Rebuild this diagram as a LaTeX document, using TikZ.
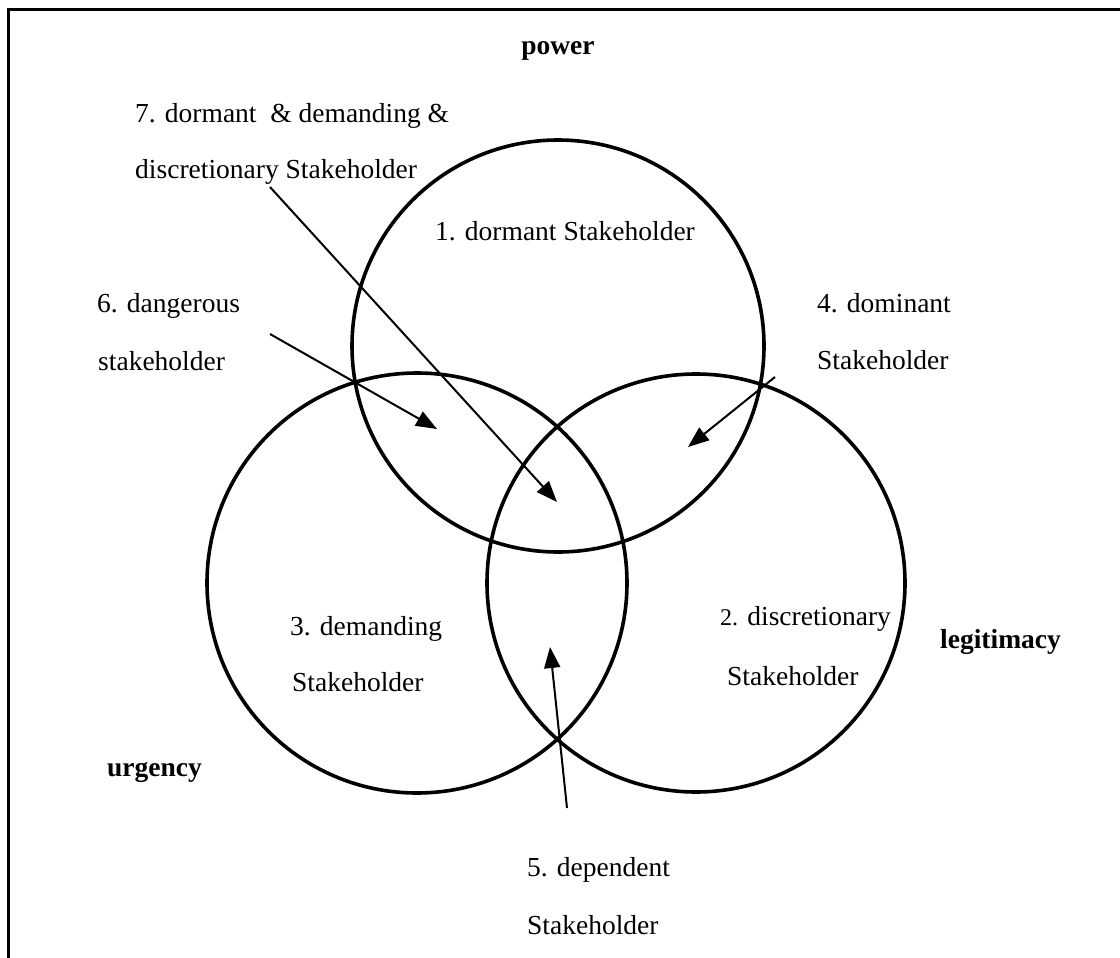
\documentclass[tikz,border=0pt]{standalone}
\usepackage{fontspec}
\setmainfont{Liberation Serif}
\usetikzlibrary{arrows.meta}
\begin{document}
\begin{tikzpicture}[x=1pt,y=-1pt,
  ring/.style={line width=3.6pt},
  pointer/.style={line width=2pt,-{Triangle[length=21pt,width=16pt]}},
  lbl/.style={anchor=base west,inner sep=0pt,font=\fontsize{27.5}{33}\selectfont},
  setname/.style={inner sep=0pt,font=\fontsize{27.5}{33}\selectfont\bfseries}]
\useasboundingbox (0,0) rectangle (1120,958);
% open frame
\draw[line width=3pt] (8,958) -- (8,10) -- (1120,10);

% the three attribute circles
\draw[ring] (558,346) circle[radius=206pt];
\draw[ring] (417,583) circle[radius=210pt];
\draw[ring] (696,583) circle[radius=209pt];

% attribute names
\node[setname,anchor=base] (power) at (558,55) {power};
\node[setname,anchor=base west] (legit) at (940,648) {legitimacy};
\node[setname,anchor=base west] (urg) at (107,776) {urgency};

% stakeholder classes
\node[lbl] (c7a) at (135,122) {7. dormant\ \ \& demanding \&};
\node[lbl] (c7b) at (135,178) {discretionary Stakeholder};
\node[lbl] (c1) at (435,240) {1. dormant Stakeholder};
\node[lbl] (c6a) at (97,312) {6. dangerous};
\node[lbl] (c6b) at (98,370) {stakeholder};
\node[lbl] (c4a) at (817,312) {4. dominant};
\node[lbl] (c4b) at (817,369) {Stakeholder};
\node[lbl] (c3a) at (290,635) {3. demanding};
\node[lbl] (c3b) at (292,691) {Stakeholder};
\node[lbl] (c2a) at (720,625) {{\fontsize{24}{28}\selectfont 2.} discretionary};
\node[lbl] (c2b) at (727,685) {Stakeholder};
\node[lbl] (c5a) at (527,876) {5. dependent};
\node[lbl] (c5b) at (527,934) {Stakeholder};

% pointers into the overlap regions
\coordinate (s7) at (270,187);  \coordinate (t7) at (557,502);
\coordinate (s6) at (270,334);  \coordinate (t6) at (437,429);
\coordinate (s4) at (775,377);  \coordinate (t4) at (688,447);
\coordinate (s5) at (567,808);  \coordinate (t5) at (550,647);
\draw[pointer] (s7) -- (t7);
\draw[pointer] (s6) -- (t6);
\draw[pointer] (s4) -- (t4);
\draw[pointer] (s5) -- (t5);
\end{tikzpicture}
\end{document}
